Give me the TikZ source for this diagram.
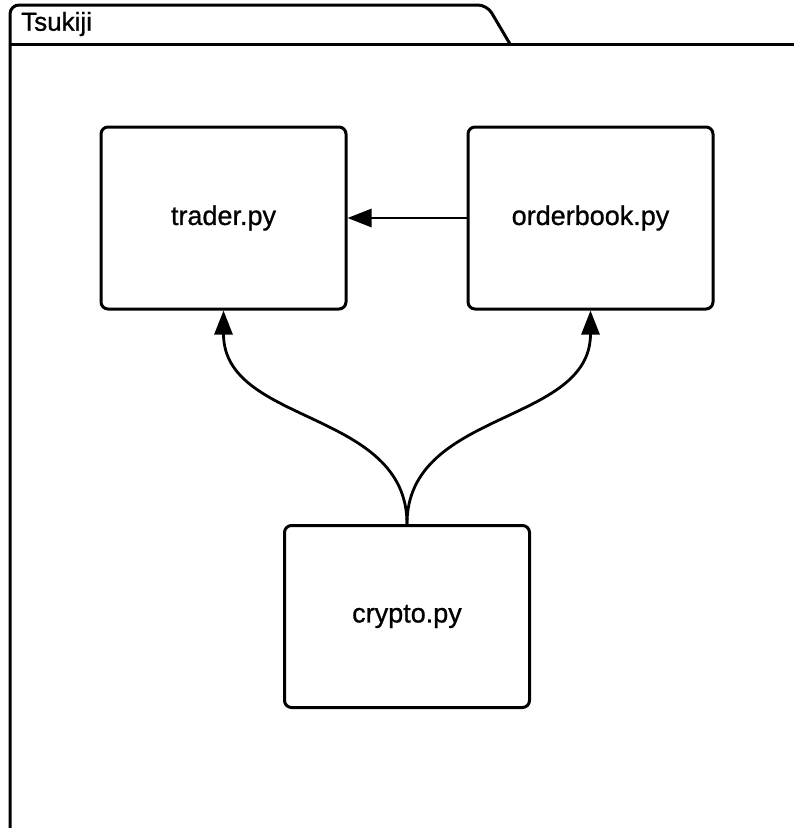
\documentclass[tikz,border=0pt]{standalone}
\usepackage{fontspec}
\setmainfont{Liberation Sans}
\newfontfamily\labelfont[FakeBold=0.9]{Liberation Sans}
\usetikzlibrary{arrows.meta}
\begin{document}
\begin{tikzpicture}[x=1pt,y=-1pt,
  module/.style={draw=black,line width=3pt,rounded corners=7pt,
    minimum width=245pt,minimum height=182pt,inner sep=0pt,
    font=\labelfont\fontsize{27}{32}\selectfont},
  dep/.style={line width=2.8pt,-{Triangle[length=24pt,width=18pt]}},
  frame/.style={line width=3pt}]
\useasboundingbox (0,0) rectangle (794,828);
% package frame with its tab
\draw[frame,rounded corners=9pt] (10,840) -- (10,5) -- (487,5) -- (510,44);
\draw[frame] (10,44) -- (800,44);
\node[anchor=west,inner sep=0pt,font=\labelfont\fontsize{26}{30}\selectfont] (pkg) at (21,24) {Tsukiji};
% modules
\node[module] (trader) at (223.5,218) {trader.py};
\node[module] (orderbook) at (590.5,218) {orderbook.py};
\node[module] (crypto) at (407,616.5) {crypto.py};
% dependencies
\draw[dep] (orderbook.west) -- (trader.east);
\draw[dep] (crypto.north) .. controls +(0,-115) and +(0,115) .. (trader.south);
\draw[dep] (crypto.north) .. controls +(0,-115) and +(0,115) .. (orderbook.south);
\end{tikzpicture}
\end{document}
